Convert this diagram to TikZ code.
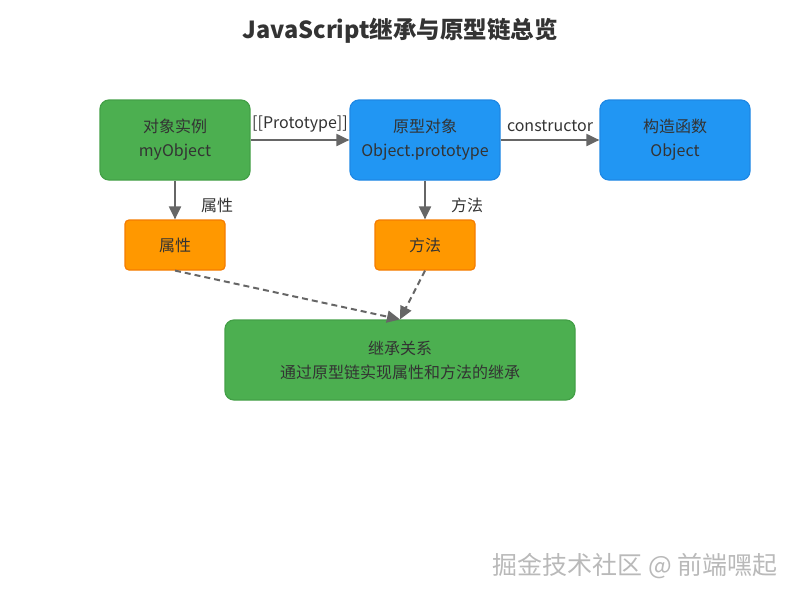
\documentclass[tikz,border=0pt]{standalone}
\usepackage{fontspec}
\setmainfont{Noto Sans CJK SC}
\usepackage{xcolor}
\usepackage{tikz}
\usetikzlibrary{arrows.meta, positioning}
\definecolor{titlegray}{RGB}{51,51,51}
\definecolor{textgray}{RGB}{51,51,51}
\definecolor{linegray}{RGB}{102,102,102}
\definecolor{instgreen}{RGB}{76,175,80}
\definecolor{instgreenborder}{RGB}{67,160,71}
\definecolor{protoblue}{RGB}{33,150,243}
\definecolor{protoblueborder}{RGB}{30,136,229}
\definecolor{memberorange}{RGB}{255,152,0}
\definecolor{memberorangeborder}{RGB}{245,124,0}
\definecolor{markgray}{RGB}{185,185,185}

\begin{document}
\begin{tikzpicture}[
    x=1pt, y=-1pt,
    bigbox/.style={draw, line width=1.2pt, rounded corners=9pt, minimum width=150pt, minimum height=80pt, font=\fontsize{16}{24}\selectfont, text=textgray, align=center, inner sep=0pt},
    smallbox/.style={draw, line width=1.2pt, rounded corners=4pt, minimum width=100pt, minimum height=50pt, font=\fontsize{16}{24}\selectfont, text=textgray, align=center, inner sep=0pt},
    edgelabel/.style={font=\fontsize{16}{18}\selectfont, text=textgray, inner sep=0pt},
    arrow/.style={-{Triangle[length=13pt, width=12pt]}, line width=2pt, linegray},
    dasharrow/.style={-{Triangle[length=13pt, width=12pt]}, line width=2pt, linegray, dash pattern=on 6pt off 4pt}
]
    \useasboundingbox (0,0) rectangle (800,600);

    % Title
    \node[font=\fontsize{23.5}{26}\selectfont\bfseries, text=titlegray] (title) at (400,31) {JavaScript继承与原型链总览};

    % Top row
    \node[bigbox, fill=instgreen, draw=instgreenborder] (inst) at (175,140) {对象实例\\myObject};
    \node[bigbox, fill=protoblue, draw=protoblueborder] (proto) at (425,140) {原型对象\\Object.prototype};
    \node[bigbox, fill=protoblue, draw=protoblueborder] (ctor) at (675,140) {构造函数\\Object};

    % Members
    \node[smallbox, fill=memberorange, draw=memberorangeborder] (props) at (175,245) {属性};
    \node[smallbox, fill=memberorange, draw=memberorangeborder] (methods) at (425,245) {方法};

    % Summary
    \node[bigbox, minimum width=350pt, fill=instgreen, draw=instgreenborder] (inherit) at (400,360) {继承关系\\通过原型链实现属性和方法的继承};

    % Links
    \draw[arrow] (inst) -- (proto) node[edgelabel, midway, above=7pt] {[[Prototype]]};
    \draw[arrow] (proto) -- (ctor) node[edgelabel, midway, above=7pt] {constructor};
    \draw[arrow] (inst) -- (props) node[edgelabel, midway, right=25pt, yshift=-5pt] {属性};
    \draw[arrow] (proto) -- (methods) node[edgelabel, midway, right=25pt, yshift=-5pt] {方法};

    % Inheritance
    \draw[dasharrow] (props.south) -- (inherit.north);
    \draw[dasharrow] (methods.south) -- (inherit.north);

    % Watermark
    \node[font=\fontsize{25}{27}\selectfont, text=markgray, anchor=east] (mark) at (781,566) {掘金技术社区 @ 前端嘿起};
\end{tikzpicture}
\end{document}
